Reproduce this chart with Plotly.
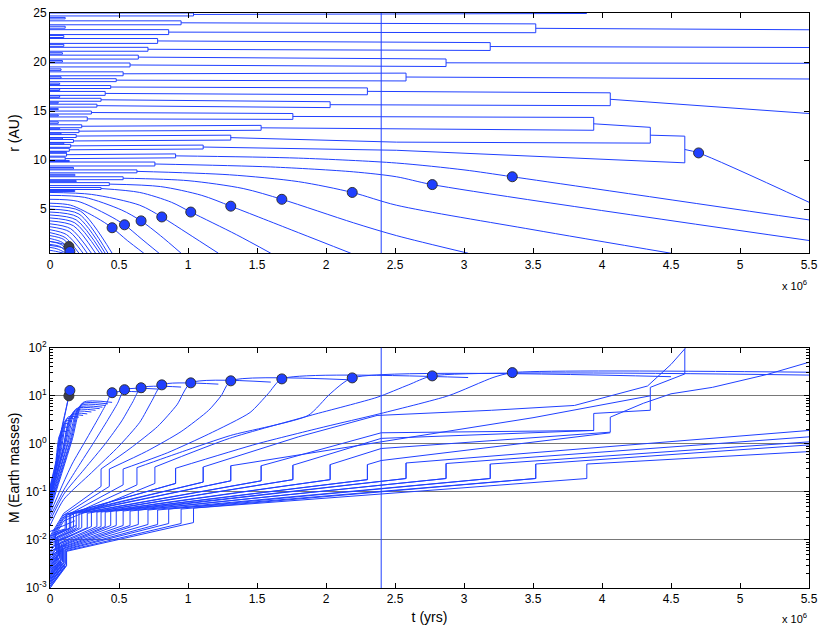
import plotly.graph_objects as go

# times in units of 10^6 yr
t_stop = 5.5
t_now = 2.4
r_inner = 0.5

# ---------------- top panel: orbits r (AU) ----------------
# short-lived pairs at the far left
seed_t = [0.11, 0.11, 0.10, 0.10, 0.09, 0.09, 0.08, 0.08, 0.07, 0.07, 0.07, 0.06, 0.06, 0.06,
          0.06, 0.07, 0.08, 0.09, 0.10, 0.12, 0.14, 0.17, 0.18, 0.19, 0.18]
seed_hi = [24.55, 23.65, 22.7, 21.8, 20.95, 20.15, 19.3, 18.5, 17.85, 17.25, 16.55, 15.9, 15.25, 14.6,
           13.9, 13.25, 12.75, 12.25, 11.75, 10.85, 9.95, 9.25, 8.55, 7.9, 6.9]
seed_lo = [24.4, 23.45, 22.5, 21.6, 20.8, 20.0, 19.15, 18.35, 17.7, 17.1, 16.4, 15.8, 15.15, 14.5,
           13.75, 13.15, 12.65, 12.15, 11.65, 10.75, 9.85, 9.1, 8.4, 7.8, 6.8]
seed_m0 = [0.0010, 0.0011, 0.0012, 0.0013, 0.0014, 0.0015, 0.0017, 0.0018, 0.0020, 0.0022, 0.0024, 0.0026,
           0.0028, 0.0031, 0.0034, 0.0037, 0.0040, 0.0044, 0.0048, 0.0058, 0.0070, 0.0085, 0.0100, 0.0120, 0.0150]
seed_ms = [0.0028, 0.0029, 0.0030, 0.0031, 0.0032, 0.0033, 0.0034, 0.0035, 0.0036, 0.0037, 0.0039, 0.0041,
           0.0043, 0.0045, 0.0047, 0.0050, 0.0054, 0.0060, 0.0066, 0.0080, 0.0100, 0.0130, 0.0160, 0.0200, 0.0250]

# first generation of pair mergers (outer disc)
g1_t = [1.04, 0.95, 0.86, 0.78, 0.71, 0.64, 0.58, 0.53, 0.48, 0.44, 0.40, 0.37, 0.34, 0.30,
        0.27, 0.23, 0.21, 0.19, 0.17, 0.15, 0.14, 0.12, 0.11]
g1_hi = [25.0, 24.2, 23.3, 22.4, 21.5, 20.7, 19.9, 19.0, 18.3, 17.6, 17.0, 16.3, 15.7, 15.0,
         14.4, 13.6, 13.1, 12.6, 12.1, 11.6, 11.2, 10.7, 10.3]
g1_lo = [24.7, 23.8, 22.8, 21.9, 21.1, 20.3, 19.5, 18.6, 18.0, 17.3, 16.6, 16.0, 15.4, 14.7,
         14.0, 13.3, 12.8, 12.3, 11.8, 11.3, 10.9, 10.4, 10.0]
# masses (Earth masses) of those embryos
g1_m0 = [0.0010, 0.0011, 0.0012, 0.0013, 0.0014, 0.0015, 0.0016, 0.0017, 0.0018, 0.0019, 0.0021, 0.0023,
         0.0025, 0.0027, 0.0029, 0.0032, 0.0035, 0.0038, 0.0042, 0.0046, 0.0050, 0.0055, 0.0060]
g1_ts = [0.12, 0.12, 0.11, 0.11, 0.10, 0.10, 0.09, 0.09, 0.08, 0.08, 0.08, 0.07, 0.07, 0.06,
         0.06, 0.06, 0.05, 0.05, 0.05, 0.04, 0.04, 0.04, 0.03]
g1_ms = [0.0029, 0.0030, 0.0031, 0.0032, 0.0033, 0.0034, 0.0035, 0.0036, 0.0037, 0.0038, 0.0040, 0.0042,
         0.0044, 0.0046, 0.0048, 0.0050, 0.0052, 0.0055, 0.0058, 0.0061, 0.0064, 0.0068, 0.0072]
g1_ms2 = [0.0058, 0.0060, 0.0062, 0.0064, 0.0066, 0.0068, 0.0070, 0.0072, 0.0074, 0.0076, 0.0080, 0.0084,
          0.0088, 0.0092, 0.0096, 0.0100, 0.0104, 0.0110, 0.0116, 0.0122, 0.0128, 0.0136, 0.0144]
g1_m1 = [0.023, 0.022, 0.022, 0.021, 0.021, 0.021, 0.020, 0.020, 0.020, 0.020, 0.019, 0.019,
         0.019, 0.019, 0.018, 0.018, 0.018, 0.018, 0.018, 0.018, 0.017, 0.017, 0.017]
g1_m1b = [0.046, 0.044, 0.044, 0.042, 0.042, 0.042, 0.040, 0.040, 0.040, 0.040, 0.038, 0.038,
          0.038, 0.038, 0.036, 0.036, 0.036, 0.036, 0.036, 0.036, 0.034, 0.034, 0.034]

# second generation: each joins two first-generation products
g2_kids = [(1, 2), (3, 4), (5, 6), (7, 8), (9, 10), (11, 12), (13, 14), (15, 16), (17, 18), (19, 20), (21, 22)]
g2_t = [3.52, 3.19, 2.87, 2.58, 2.30, 2.03, 1.76, 1.53, 1.31, 1.11, 0.91]
g2_hi = [23.89, 21.98, 20.31, 18.87, 17.36, 15.95, 14.75, 13.54, 12.54, 11.53, 10.63]
g2_lo = [22.99, 21.18, 19.54, 18.07, 16.66, 15.35, 14.15, 13.04, 12.04, 11.13, 10.23]
g2_m = [0.19, 0.19, 0.19, 0.19, 0.18, 0.18, 0.18, 0.17, 0.17, 0.16, 0.15]
g2_mb = [0.38, 0.38, 0.39, 0.40, 0.37, 0.37, 0.36, 0.35, 0.35, 0.33, 0.31]

# third generation
g3_t = [4.06, 3.94, 4.35, 4.60]
g3_hi = [16.86, 14.35, 13.34, 12.44]
g3_lo = [15.55, 13.04, 11.73, 9.72]

# later orbits of the merged bodies
tail_t = [[1.04, 3.89], [3.52, 5.5], [3.19, 5.5], [2.87, 5.5], [2.58, 5.5],
          [2.30, 4.06], [2.03, 4.06], [1.76, 3.94], [1.53, 3.94], [1.31, 2.51, 4.35],
          [1.11, 2.51, 4.60], [4.06, 5.5], [3.94, 4.35], [4.35, 4.60]]
tail_r = [[24.85, 24.95], [23.44, 23.29], [21.58, 21.48], [19.92, 19.87], [18.47, 18.27],
          [17.01, 16.86], [15.65, 15.55], [14.45, 14.35], [13.29, 13.04], [12.29, 11.83, 11.73],
          [11.33, 11.0, 9.72], [16.2, 14.75], [13.7, 13.34], [12.54, 12.44]]

# inner pairs that later turn into migrating giants
d_t = [0.76, 0.63, 0.53, 0.43, 0.37]
d_hi = [9.8, 9.0, 8.3, 7.7, 7.2]
d_lo = [9.4, 8.7, 8.0, 7.4, 7.0]
d_m0 = [0.008, 0.009, 0.010, 0.011, 0.012]
d_mq = [0.025, 0.028, 0.030, 0.033, 0.036]
d_m1 = [0.15, 0.14, 0.14, 0.13, 0.13]
d_m1b = [0.33, 0.32, 0.30, 0.30, 0.30]

# migrating planets (orbit) through the marked points
mig_t = [[4.60, 4.70, 5.5],
         [0.91, 1.8, 2.51, 3.0, 3.35, 5.5],
         [0.76, 1.6, 2.2, 2.51, 2.77, 5.5],
         [0.63, 1.3, 1.8, 2.19, 2.51, 3.5, 4.5],
         [0.53, 1.0, 1.4, 1.68, 2.2, 2.51, 3.03],
         [0.43, 0.8, 1.1, 1.31, 1.8, 2.18],
         [0.37, 0.65, 0.88, 1.02, 1.35, 1.6],
         [0, 0.3, 0.65, 0.81, 1.0, 1.22],
         [0, 0.25, 0.52, 0.66, 0.8, 0.95],
         [0, 0.2, 0.42, 0.54, 0.66, 0.79],
         [0, 0.15, 0.34, 0.45, 0.56, 0.68],
         [0, 0.08, 0.144, 0.16],
         [0, 0.08, 0.137, 0.17]]
mig_r = [[11.08, 10.73, 5.7],
         [10.43, 10.2, 9.7, 9.0, 8.3, 3.9],
         [9.6, 9.3, 8.8, 8.3, 7.5, 1.8],
         [8.85, 8.5, 7.8, 6.7, 5.4, 2.9, 0.5],
         [8.15, 7.9, 7.1, 6.0, 3.6, 2.3, 0.5],
         [7.55, 7.3, 6.4, 5.3, 2.6, 0.5],
         [7.1, 6.7, 5.7, 4.7, 2.4, 0.5],
         [6.7, 6.5, 5.4, 4.2, 2.5, 0.5],
         [6.4, 6.2, 4.9, 3.8, 2.3, 0.5],
         [6.0, 5.8, 4.4, 3.4, 2.0, 0.5],
         [5.6, 5.4, 4.1, 3.1, 1.8, 0.5],
         [1.3, 1.1, 0.68, 0.5],
         [1.7, 1.5, 1.18, 0.5]]

# inner embryos lost early to the inner edge
in_r0 = [5.3, 5.0, 4.7, 4.4, 4.1, 3.8, 3.5, 3.2, 2.9, 2.6, 2.3, 2.0, 1.7, 1.4, 1.1, 0.8]
in_tm = [0.22, 0.21, 0.20, 0.19, 0.18, 0.17, 0.15, 0.14, 0.12, 0.11, 0.10, 0.09, 0.08, 0.07, 0.05, 0.04]
in_rm = [4.8, 4.5, 4.2, 3.9, 3.6, 3.3, 3.0, 2.7, 2.4, 2.1, 1.9, 1.6, 1.4, 1.2, 0.95, 0.7]
in_te = [0.45, 0.42, 0.40, 0.38, 0.36, 0.33, 0.30, 0.27, 0.24, 0.21, 0.18, 0.16, 0.14, 0.13, 0.12, 0.10]
in_m0 = [0.04, 0.045, 0.05, 0.055, 0.06, 0.065, 0.07, 0.075, 0.08, 0.085, 0.09, 0.095, 0.1, 0.11, 0.12, 0.13]
in_tq = [0.16, 0.15, 0.14, 0.13, 0.12, 0.11, 0.10, 0.095, 0.09, 0.08, 0.07, 0.065, 0.06, 0.05, 0.045, 0.04]
in_mq = [1.2, 1.1, 1.0, 1.0, 0.9, 0.9, 0.8, 0.8, 0.7, 0.7, 0.6, 0.6, 0.5, 0.5, 0.4, 0.4]
in_tp = [0.24, 0.23, 0.22, 0.21, 0.19, 0.18, 0.17, 0.16, 0.15, 0.13, 0.12, 0.11, 0.10, 0.09, 0.08, 0.07]
in_mp = [7.3, 6.8, 6.3, 5.8, 5.4, 5.0, 4.6, 4.2, 3.9, 3.6, 3.3, 3.0, 2.6, 2.2, 1.8, 1.5]

# ---------------- bottom panel: masses ----------------
mtail_t = [[1.04, 3.89, 3.89, 5.5], [3.52, 5.5], [3.19, 5.5], [2.87, 5.5], [2.58, 5.5],
           [2.30, 2.4, 4.06], [2.03, 2.4, 4.06], [1.76, 2.4, 3.94], [1.53, 2.4, 3.94],
           [4.06, 4.06, 4.3, 4.5, 4.8, 5.2, 5.5],
           [3.94, 3.94, 4.35, 4.35, 4.6, 4.6, 4.63],
           [1.31, 2.4, 3.5, 4.35],
           [1.11, 1.8, 2.37, 3.2, 3.8, 4.33, 4.5, 4.6]]
mtail_m = [[0.046, 0.19, 0.38, 0.69], [0.38, 0.95], [0.38, 1.1], [0.39, 1.4], [0.40, 1.9],
           [0.37, 0.45, 1.7], [0.37, 0.8, 1.75], [0.36, 1.3, 1.9], [0.35, 1.7, 1.9],
           [1.75, 3.6, 7.0, 11.0, 15.0, 28.0, 50.0],
           [1.9, 4.3, 5.0, 15.0, 28.5, 95.0, 130.0],
           [0.35, 1.1, 3.5, 10.0],
           [0.33, 1.4, 3.9, 5.0, 6.3, 16.0, 45.0, 95.0]]

# growth of the migrating planets, ending flat after the marked point
grow_t = [[0, 0.03, 0.06, 0.09, 0.115, 0.137],
          [0, 0.03, 0.06, 0.09, 0.12, 0.144],
          [0, 0.08, 0.16, 0.26, 0.35, 0.41, 0.45, 0.68],
          [0, 0.1, 0.2, 0.32, 0.42, 0.49, 0.54, 0.79],
          [0, 0.1, 0.25, 0.4, 0.52, 0.6, 0.66, 0.95],
          [0, 0.1, 0.3, 0.5, 0.65, 0.74, 0.81, 1.22],
          [0.37, 0.58, 0.78, 0.92, 1.02, 1.6],
          [0.43, 0.7, 0.95, 1.15, 1.24, 1.31, 2.18],
          [0.53, 0.85, 1.15, 1.45, 1.58, 1.68, 3.03],
          [0.63, 0.96, 1.31, 1.87, 2.03, 2.19, 4.5],
          [0.76, 1.3, 1.9, 2.37, 2.6, 2.77, 5.5],
          [0.91, 1.5, 2.0, 2.37, 2.89, 3.21, 3.35, 5.5]]
grow_m = [[0.05, 0.18, 0.7, 2.2, 5.0, 10.0],
          [0.06, 0.2, 0.8, 2.5, 6.0, 12.9],
          [0.035, 0.12, 0.38, 1.2, 3.4, 7.0, 11.6, 12.0],
          [0.03, 0.11, 0.32, 1.1, 3.2, 7.0, 13.4, 13.8],
          [0.025, 0.09, 0.3, 1.0, 3.0, 7.5, 14.7, 15.2],
          [0.02, 0.07, 0.25, 0.9, 2.8, 8.0, 16.9, 17.5],
          [0.30, 0.8, 2.3, 6.5, 18.6, 19.3],
          [0.30, 0.7, 1.8, 5.0, 10.0, 20.5, 21.5],
          [0.30, 0.65, 1.6, 4.5, 11.0, 22.5, 24.0],
          [0.32, 0.69, 1.5, 3.9, 11.0, 23.6, 25.0],
          [0.33, 1.3, 4.0, 9.3, 17.0, 26.0, 27.0],
          [0.31, 1.0, 2.3, 4.1, 10.1, 24.0, 30.4, 31.0]]

# marked points
mk_t = [0.137, 0.144, 0.45, 0.54, 0.66, 0.81, 1.02, 1.31, 1.68, 2.19, 2.77, 3.35, 4.70]
mk_r = [1.18, 0.68, 3.1, 3.4, 3.8, 4.2, 4.7, 5.3, 6.0, 6.7, 7.5, 8.3, 10.73]
mk_m = [10.0, 12.9, 11.6, 13.4, 14.7, 16.9, 18.6, 20.5, 22.5, 23.6, 26.0, 30.4, None]

BLUE = "rgb(32,64,255)"
DARK = "rgb(60,60,75)"


def add_path(xs, ys, px, py):
    xs.extend(list(px) + [None])
    ys.extend(list(py) + [None])


# --- build top panel paths ---
top_x, top_y = [], []      # straight pieces
top_cx, top_cy = [], []    # smooth curves

for t, hi, lo in zip(seed_t, seed_hi, seed_lo):
    add_path(top_x, top_y, [0, t, t, 0], [hi, hi, lo, lo])
for t, hi, lo in zip(g1_t, g1_hi, g1_lo):
    add_path(top_x, top_y, [0, t, t, 0], [hi, hi, lo, lo])
for (a, b), t, hi, lo in zip(g2_kids, g2_t, g2_hi, g2_lo):
    ra = (g1_hi[a] + g1_lo[a]) / 2
    rb = (g1_hi[b] + g1_lo[b]) / 2
    add_path(top_x, top_y, [g1_t[a], t, t, g1_t[b]], [ra, hi, lo, rb])
for t, hi, lo in zip(g3_t, g3_hi, g3_lo):
    add_path(top_x, top_y, [t, t], [hi, lo])
for tt, rr in zip(tail_t, tail_r):
    add_path(top_x, top_y, tt, rr)
for t, hi, lo in zip(d_t, d_hi, d_lo):
    add_path(top_x, top_y, [0, t, t, 0], [hi, hi, lo, lo])
for tt, rr in zip(mig_t, mig_r):
    add_path(top_cx, top_cy, tt, rr)
for r0, tm, rm, te in zip(in_r0, in_tm, in_rm, in_te):
    add_path(top_cx, top_cy, [0, tm, te], [r0, rm, r_inner])

# --- build bottom panel paths ---
bot_x, bot_y = [], []
bot_cx, bot_cy = [], []
kid_of = {}
for k, (a, b) in enumerate(g2_kids):
    kid_of[a] = k
    kid_of[b] = k
for t, m0, ms in zip(seed_t, seed_m0, seed_ms):
    add_path(bot_x, bot_y, [0, t], [m0, ms])
for i in range(len(g1_t)):
    px = [0, g1_ts[i], g1_ts[i], g1_t[i], g1_t[i]]
    py = [g1_m0[i], g1_ms[i], g1_ms2[i], g1_m1[i], g1_m1b[i]]
    if i in kid_of:
        k = kid_of[i]
        px += [g2_t[k], g2_t[k]]
        py += [g2_m[k], g2_mb[k]]
    add_path(bot_x, bot_y, px, py)
for tt, mm in zip(mtail_t, mtail_m):
    add_path(bot_x, bot_y, tt, mm)
for t, m0, mq, m1, m1b in zip(d_t, d_m0, d_mq, d_m1, d_m1b):
    add_path(bot_x, bot_y, [0, 0.1, t, t], [m0, mq, m1, m1b])
for tt, mm in zip(grow_t, grow_m):
    add_path(bot_cx, bot_cy, tt, mm)
for m0, tq, mq, tp, mp, te in zip(in_m0, in_tq, in_mq, in_tp, in_mp, in_te):
    add_path(bot_cx, bot_cy, [0, tq, tp, te], [m0, mq, mp, mp])

line = dict(color=BLUE, width=1)
fig = go.Figure()
fig.add_trace(go.Scatter(x=top_x, y=top_y, mode="lines", line=line, xaxis="x", yaxis="y"))
fig.add_trace(go.Scatter(x=top_cx, y=top_cy, mode="lines",
                         line=dict(color=BLUE, width=1, shape="spline", smoothing=0.8),
                         xaxis="x", yaxis="y"))
fig.add_trace(go.Scatter(x=bot_x, y=bot_y, mode="lines", line=line, xaxis="x2", yaxis="y2"))
fig.add_trace(go.Scatter(x=bot_cx, y=bot_cy, mode="lines",
                         line=dict(color=BLUE, width=1, shape="spline", smoothing=0.6),
                         xaxis="x2", yaxis="y2"))

mk_col = [DARK] + [BLUE] * (len(mk_t) - 1)
marker = dict(size=10, color=mk_col, line=dict(color="rgb(50,50,50)", width=1))
fig.add_trace(go.Scatter(x=mk_t, y=mk_r, mode="markers", marker=marker, xaxis="x", yaxis="y"))
fig.add_trace(go.Scatter(x=mk_t, y=mk_m, mode="markers", marker=marker, xaxis="x2", yaxis="y2"))

# current time
for yref in ("y", "y2"):
    fig.add_shape(type="line", x0=t_now, x1=t_now, y0=0, y1=1, xref=yref.replace("y", "x"),
                  yref=yref + " domain", line=dict(color=BLUE, width=1))

axis = dict(showline=True, linecolor="black", linewidth=1, mirror="ticks", ticks="inside",
            ticklen=5, tickcolor="black", zeroline=False, showgrid=False)
minor_vals = [k * 10 ** e for e in range(-3, 2) for k in range(2, 10)]

fig.update_layout(
    width=830, height=634,
    margin=dict(l=50, r=14, t=12, b=38),
    paper_bgcolor="white", plot_bgcolor="white",
    showlegend=False,
    font=dict(family="Liberation Sans, Arial, sans-serif", size=12, color="black"),
    xaxis=dict(axis, domain=[0, 1], anchor="y", range=[0, t_stop], dtick=0.5),
    yaxis=dict(axis, domain=[0.5822, 1], anchor="x", range=[r_inner, 25], tickvals=[5, 10, 15, 20, 25],
               automargin=False, title=dict(text="r (AU)", standoff=10)),
    xaxis2=dict(axis, domain=[0, 1], anchor="y2", range=[0, t_stop], dtick=0.5,
                title=dict(text="t (yrs)", standoff=6)),
    yaxis2=dict(axis, domain=[0, 0.4178], anchor="x2", type="log", range=[-3, 2],
                tickvals=[1e-3, 1e-2, 1e-1, 1, 10, 100],
                ticktext=["10<sup>-3</sup>", "10<sup>-2</sup>", "10<sup>-1</sup>", "10<sup>0</sup>",
                          "10<sup>1</sup>", "10<sup>2</sup>"],
                showgrid=True, gridcolor="rgb(120,120,120)", gridwidth=1,
                minor=dict(tickvals=minor_vals, ticks="inside", ticklen=3, tickcolor="black",
                           showgrid=False),
                automargin=False, title=dict(text="M (Earth masses)", standoff=2)),
)
for ypos in (0.527, -0.052):
    fig.add_annotation(text="x 10<sup>6</sup>", x=1, y=ypos, xref="paper", yref="paper",
                       xanchor="right", yanchor="middle", showarrow=False, font=dict(size=11))

fig.write_html("out.html", config={"displayModeBar": False},
               post_script="document.body.style.margin='0px';")
